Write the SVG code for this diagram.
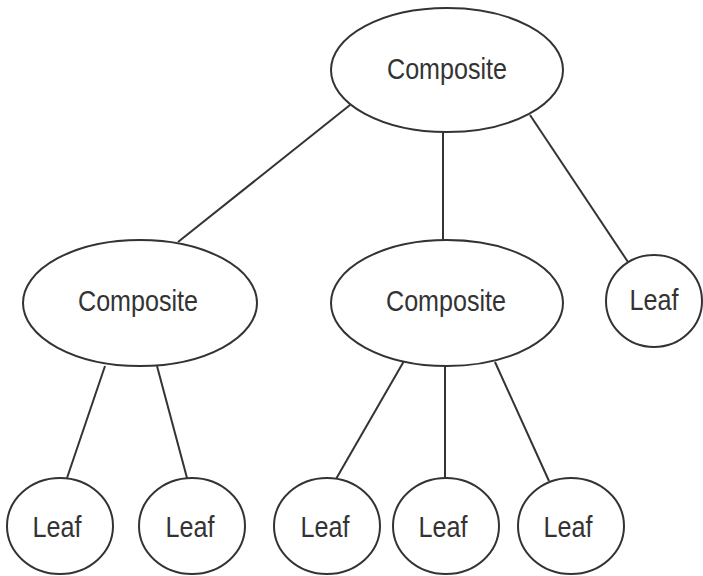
<svg xmlns="http://www.w3.org/2000/svg" width="703" height="576" viewBox="0 0 703 576">
<style>
.n{fill:#fff;stroke:#333;stroke-width:2}
.c line{stroke:#333;stroke-width:2}
text{font-family:"Liberation Sans",Arial,sans-serif;font-size:30px;fill:#333;text-anchor:middle}
</style>
<rect width="703" height="576" fill="#fff"/>
<g class="c" id="connectors">
<line x1="350" y1="105" x2="178" y2="242"/>
<line x1="443" y1="132" x2="443" y2="240"/>
<line x1="530" y1="115" x2="628" y2="262"/>
<line x1="105" y1="366" x2="67" y2="478"/>
<line x1="157" y1="366" x2="187" y2="478"/>
<line x1="404" y1="361" x2="336" y2="479"/>
<line x1="445" y1="366" x2="445" y2="478"/>
<line x1="495" y1="362" x2="549" y2="481"/>
</g>
<g id="root"><ellipse class="n" cx="447" cy="70" rx="116" ry="62"/><text x="447" y="79" textLength="120" lengthAdjust="spacingAndGlyphs">Composite</text></g>
<g id="compositeLeft"><ellipse class="n" cx="140" cy="303" rx="117" ry="63"/><text x="138" y="311" textLength="120" lengthAdjust="spacingAndGlyphs">Composite</text></g>
<g id="compositeMid"><ellipse class="n" cx="447" cy="303" rx="116" ry="63"/><text x="446" y="311" textLength="120" lengthAdjust="spacingAndGlyphs">Composite</text></g>
<g id="leafRight"><ellipse class="n" cx="654" cy="301" rx="48" ry="46"/><text x="654" y="310" textLength="49" lengthAdjust="spacingAndGlyphs">Leaf</text></g>
<g id="leaf1"><ellipse class="n" cx="60" cy="526" rx="53" ry="48"/><text x="57" y="537" textLength="49" lengthAdjust="spacingAndGlyphs">Leaf</text></g>
<g id="leaf2"><ellipse class="n" cx="192" cy="526" rx="53" ry="48"/><text x="190" y="537" textLength="49" lengthAdjust="spacingAndGlyphs">Leaf</text></g>
<g id="leaf3"><ellipse class="n" cx="327" cy="526" rx="53" ry="48"/><text x="325" y="537" textLength="49" lengthAdjust="spacingAndGlyphs">Leaf</text></g>
<g id="leaf4"><ellipse class="n" cx="446" cy="526" rx="53" ry="48"/><text x="443" y="537" textLength="49" lengthAdjust="spacingAndGlyphs">Leaf</text></g>
<g id="leaf5"><ellipse class="n" cx="571" cy="526" rx="53" ry="48"/><text x="568" y="537" textLength="49" lengthAdjust="spacingAndGlyphs">Leaf</text></g>
</svg>
